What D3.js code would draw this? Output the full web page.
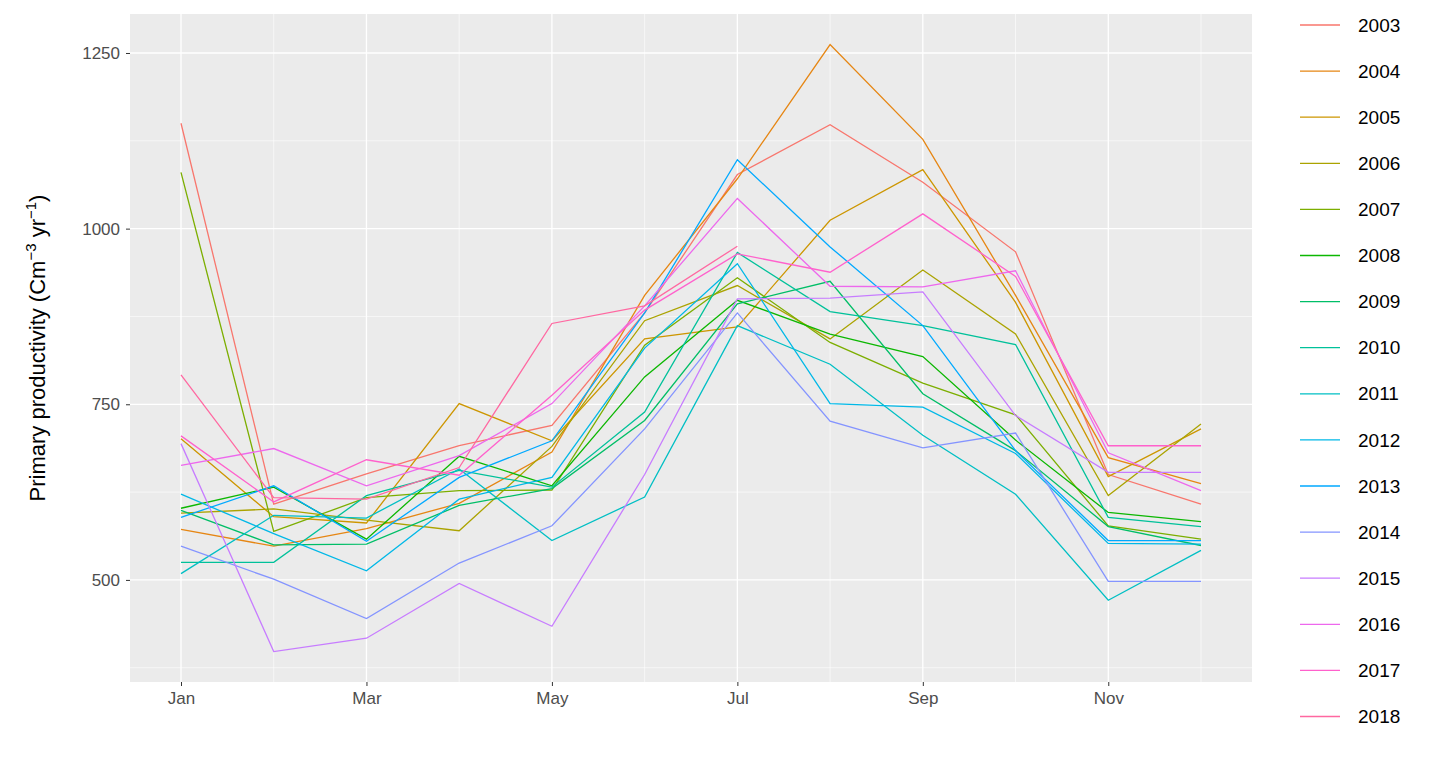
<!DOCTYPE html>
<html>
<head>
<meta charset="utf-8">
<script src="https://cdn.jsdelivr.net/npm/d3@7"></script>
<style>
  body { margin: 0; background: #fff; font-family: "Liberation Sans", Arial, sans-serif; }
</style>
</head>
<body>
<svg id="chart" width="1440" height="768"></svg>
<script>
var MONTHS = ['Jan', 'Feb', 'Mar', 'Apr', 'May', 'Jun', 'Jul', 'Aug', 'Sep', 'Oct', 'Nov', 'Dec'];
var MONTH_TICKS = ['Jan', 'Mar', 'May', 'Jul', 'Sep', 'Nov'];
var Y_TICKS = [500, 750, 1000, 1250];
var Y_MINOR = [375, 625, 875, 1125];
var YEARS = ['2003', '2004', '2005', '2006', '2007', '2008', '2009', '2010',
  '2011', '2012', '2013', '2014', '2015', '2016', '2017', '2018'];
// ggplot default hue palette, 16 levels
var COLORS = ['#F8766D', '#E68613', '#CD9600', '#ABA300', '#7CAE00', '#0CB702', '#00BE67', '#00C19A',
  '#00BFC4', '#00B8E7', '#00A9FF', '#8494FF', '#C77CFF', '#ED68ED', '#FF61CC', '#FF68A1'];

// monthly values per year (2018 stops at Jul)
var v2003 = [1150, 608, 651, 691, 720, 880, 1077, 1148, 1066, 967, 650, 608];
var v2004 = [572, 548, 573, 609, 682, 905, 1071, 1262, 1127, 905, 674, 637];
var v2005 = [701, 590, 581, 751, 698, 843, 860, 1012, 1084, 895, 647, 715];
var v2006 = [595, 601, 585, 570, 690, 869, 919, 843, 941, 850, 620, 722];
var v2007 = [1080, 569, 617, 627, 628, 834, 930, 838, 780, 735, 577, 558];
var v2008 = [602, 632, 558, 676, 634, 789, 898, 850, 818, 699, 596, 583];
var v2009 = [599, 550, 551, 606, 630, 727, 893, 925, 765, 684, 576, 549];
var v2010 = [525, 525, 620, 656, 632, 739, 966, 882, 862, 835, 589, 576];
var v2011 = [509, 592, 588, 658, 556, 618, 862, 807, 706, 622, 471, 542];
var v2012 = [622, 566, 513, 615, 646, 830, 950, 751, 746, 680, 552, 551];
var v2013 = [589, 634, 555, 646, 698, 880, 1098, 974, 862, 684, 556, 556];
var v2014 = [548, 501, 445, 524, 577, 715, 880, 726, 688, 709, 498, 498];
var v2015 = [694, 398, 417, 495, 434, 650, 900, 901, 910, 734, 653, 653];
var v2016 = [663, 687, 634, 677, 751, 890, 1043, 918, 917, 940, 681, 627];
var v2017 = [705, 611, 671, 649, 763, 884, 964, 938, 1021, 932, 691, 691];
var v2018 = [792, 617, 615, 660, 865, 890, 975];

var SERIES = [v2003, v2004, v2005, v2006, v2007, v2008, v2009, v2010,
  v2011, v2012, v2013, v2014, v2015, v2016, v2017, v2018];

var svg = d3.select('#chart');
var pLeft = 130, pRight = 1252, pTop = 14, pBottom = 682;

var x = d3.scaleLinear().domain([-0.55, 11.55]).range([pLeft, pRight]);
var y = d3.scaleLinear().domain([354.7, 1305.5]).range([pBottom, pTop]);

svg.append('rect').attr('x', pLeft).attr('y', pTop)
  .attr('width', pRight - pLeft).attr('height', pBottom - pTop).attr('fill', '#EBEBEB');

var grid = svg.append('g');
function monthX(m) { return x(MONTHS.indexOf(m)); }
grid.selectAll('.ymin').data(Y_MINOR).enter().append('line')
  .attr('x1', pLeft).attr('x2', pRight)
  .attr('y1', function (d) { return y(d); }).attr('y2', function (d) { return y(d); })
  .attr('stroke', '#fff').attr('stroke-width', 0.6);
grid.selectAll('.xmin').data(MONTHS.filter(function (m, i) { return i % 2 === 1; })).enter().append('line')
  .attr('y1', pTop).attr('y2', pBottom).attr('x1', monthX).attr('x2', monthX)
  .attr('stroke', '#fff').attr('stroke-width', 0.6);
grid.selectAll('.ymaj').data(Y_TICKS).enter().append('line')
  .attr('x1', pLeft).attr('x2', pRight)
  .attr('y1', function (d) { return y(d); }).attr('y2', function (d) { return y(d); })
  .attr('stroke', '#fff').attr('stroke-width', 1.3);
grid.selectAll('.xmaj').data(MONTH_TICKS).enter().append('line')
  .attr('y1', pTop).attr('y2', pBottom).attr('x1', monthX).attr('x2', monthX)
  .attr('stroke', '#fff').attr('stroke-width', 1.3);

var line = d3.line()
  .x(function (d, i) { return x(i); })
  .y(function (d) { return y(d); });

svg.append('g').selectAll('path').data(SERIES).enter().append('path')
  .attr('d', line)
  .attr('fill', 'none')
  .attr('stroke', function (d, i) { return COLORS[i]; })
  .attr('stroke-width', 1.3);

// axes
var xAxis = svg.append('g').attr('transform', 'translate(0,' + pBottom + ')')
  .call(d3.axisBottom(x).tickValues(MONTH_TICKS.map(function (m) { return MONTHS.indexOf(m); }))
    .tickFormat(function (i) { return MONTHS[i]; }).tickSize(4).tickPadding(6));
var yAxis = svg.append('g').attr('transform', 'translate(' + pLeft + ',0)')
  .call(d3.axisLeft(y).tickValues(Y_TICKS).tickFormat(d3.format('d')).tickSize(4).tickPadding(6));
[xAxis, yAxis].forEach(function (a) {
  a.select('.domain').remove();
  a.selectAll('line').attr('stroke', '#333').attr('stroke-width', 1);
  a.selectAll('text').attr('fill', '#4D4D4D').style('font-size', '17px')
    .style('font-family', '"Liberation Sans", Arial, sans-serif');
});

var title = svg.append('text')
  .attr('transform', 'translate(45,' + ((pTop + pBottom) / 2) + ') rotate(-90)')
  .attr('text-anchor', 'middle').attr('fill', '#000').style('font-size', '22px');
title.append('tspan').text('Primary productivity (Cm');
title.append('tspan').attr('dy', -9).style('font-size', '15px').text('\u22123');
title.append('tspan').attr('dy', 9).text(' yr');
title.append('tspan').attr('dy', -9).style('font-size', '15px').text('\u22121');
title.append('tspan').attr('dy', 9).text(')');

// legend
var legend = svg.append('g').selectAll('g').data(YEARS).enter().append('g')
  .attr('transform', function (d, i) { return 'translate(1298,' + (25 + i * 46.1) + ')'; });
legend.append('line').attr('x1', 2).attr('x2', 42)
  .attr('stroke', function (d, i) { return COLORS[i]; }).attr('stroke-width', 1.3);
legend.append('text').attr('x', 60).attr('dy', '0.35em')
  .style('font-size', '19px').attr('fill', '#000').text(function (d) { return d; });
</script>
</body>
</html>
